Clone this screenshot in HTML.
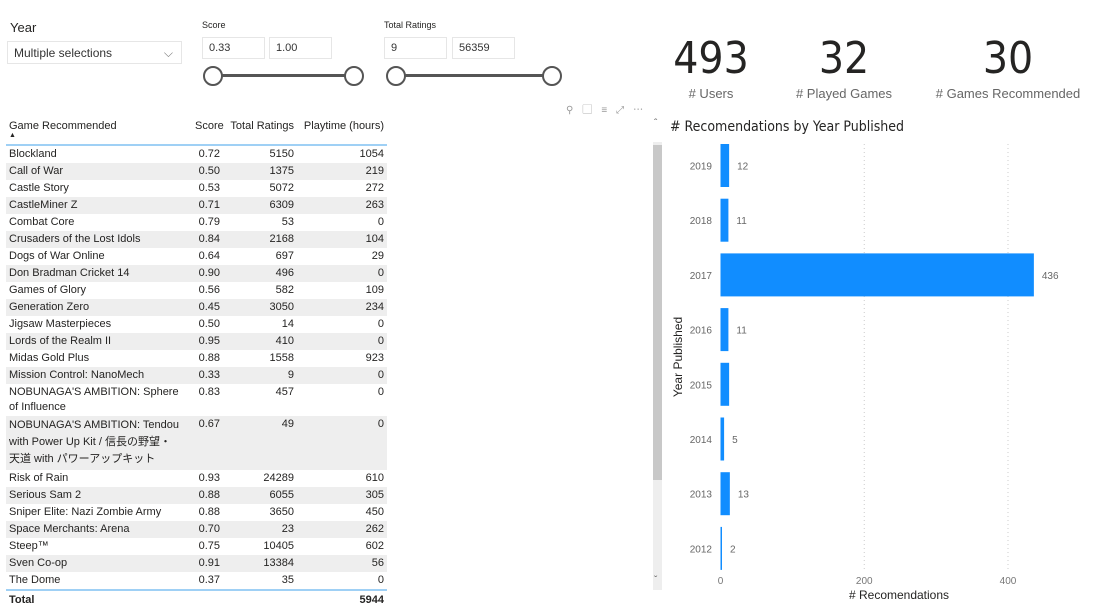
<!DOCTYPE html>
<html><head><meta charset="utf-8"><style>
body{margin:0;width:1098px;height:609px;background:#fff;font-family:"Segoe UI","Liberation Sans","Noto Sans CJK JP",sans-serif;position:relative;overflow:hidden;color:#252423}
.abs{position:absolute}
.box{position:absolute;border:1px solid #e6e6e6;font-size:11px;color:#333;padding:0 6px;box-sizing:border-box;line-height:20px;height:22px}
.knob{position:absolute;width:20px;height:20px;border:2px solid #555;border-radius:50%;background:#fff;box-sizing:border-box}
.kpi{position:absolute;text-align:center;width:200px}
.kpi .n{font-size:44px;font-family:"DejaVu Sans Condensed","Liberation Sans",sans-serif;color:#252423;line-height:46px}
.kpi .l{font-size:13px;color:#666;margin-top:4px}
table{border-collapse:collapse;font-size:11px;position:absolute;left:6px;top:117px;width:381px;table-layout:fixed;color:#252423}
td{padding:1px 3px 1px 3px;height:15px;line-height:15px;vertical-align:top;overflow:hidden}
td.r{text-align:right}
tr.s td{background:#eeeeee}
th{font-weight:normal;font-size:11px;text-align:right;padding:0 3px;height:20px;vertical-align:top;padding-top:3px;border-bottom:2px solid #9fd0f5;white-space:nowrap}
</style></head><body>
<div class="abs" style="left:10px;top:20px;font-size:13px">Year</div>
<div class="box" style="left:7px;top:41px;width:175px;height:23px;font-size:12px;line-height:22px">Multiple selections<span style="position:absolute;right:8px;top:0;color:#777">&#x2335;</span></div>
<div class="abs" style="left:202px;top:20px;font-size:9px">Score</div>
<div class="box" style="left:202px;top:37px;width:63px">0.33</div>
<div class="box" style="left:269px;top:37px;width:63px">1.00</div>
<div class="abs" style="left:214px;top:74px;width:140px;height:3px;background:#555"></div>
<div class="knob" style="left:203px;top:66px"></div>
<div class="knob" style="left:344px;top:66px"></div>
<div class="abs" style="left:384px;top:20px;font-size:9px">Total Ratings</div>
<div class="box" style="left:384px;top:37px;width:63px">9</div>
<div class="box" style="left:452px;top:37px;width:63px">56359</div>
<div class="abs" style="left:396px;top:74px;width:156px;height:3px;background:#555"></div>
<div class="knob" style="left:386px;top:66px"></div>
<div class="knob" style="left:542px;top:66px"></div>

<div class="kpi" style="left:611px;top:36px"><div class="n">493</div><div class="l"># Users</div></div>
<div class="kpi" style="left:744px;top:36px"><div class="n">32</div><div class="l"># Played Games</div></div>
<div class="kpi" style="left:908px;top:36px"><div class="n">30</div><div class="l"># Games Recommended</div></div>

<div class="abs" style="left:566px;top:101px;font-size:10px;color:#999;letter-spacing:9px">⚲▢≡⤢⋯</div>

<table>
<colgroup><col style="width:186px"><col style="width:31px"><col style="width:74px"><col style="width:90px"></colgroup>
<tr><th style="text-align:left">Game Recommended<br><span style="font-size:7px;position:relative;top:-4px">▲</span></th><th>Score</th><th>Total Ratings</th><th>Playtime (hours)</th></tr>
<tbody id="tb"></tbody>
<tr><td style="font-weight:bold;border-top:2px solid #9fd0f5;padding-top:2px">Total</td><td style="border-top:2px solid #9fd0f5"></td><td style="border-top:2px solid #9fd0f5"></td><td class="r" style="font-weight:bold;border-top:2px solid #9fd0f5;padding-top:2px">5944</td></tr>
</table>

<div class="abs" style="left:653px;top:142px;width:9px;height:448px;background:#eee"><div style="position:absolute;left:0;top:3px;width:9px;height:335px;background:#c8c8c8"></div></div>
<div class="abs" style="left:654px;top:118px;font-size:10px;color:#666">ˆ</div>
<div class="abs" style="left:654px;top:575px;font-size:10px;color:#666">ˇ</div>

<svg class="abs" style="left:0;top:0" width="1098" height="609" id="chart">
<text x="670" y="131" font-size="14" fill="#252423" font-family="DejaVu Sans Condensed, Liberation Sans, sans-serif"># Recomendations by Year Published</text>
<text transform="translate(682,357) rotate(-90)" text-anchor="middle" font-size="12" fill="#252423">Year Published</text>
<text x="899" y="599" text-anchor="middle" font-size="12" fill="#252423"># Recomendations</text>
<g id="g"></g>
</svg>
<script>
const games=["Blockland","Call of War","Castle Story","CastleMiner Z","Combat Core","Crusaders of the Lost Idols","Dogs of War Online","Don Bradman Cricket 14","Games of Glory","Generation Zero","Jigsaw Masterpieces","Lords of the Realm II","Midas Gold Plus","Mission Control: NanoMech","NOBUNAGA'S AMBITION: Sphere of Influence","NOBUNAGA'S AMBITION: Tendou with Power Up Kit / 信長の野望・天道 with パワーアップキット","Risk of Rain","Serious Sam 2","Sniper Elite: Nazi Zombie Army","Space Merchants: Arena","Steep™","Sven Co-op","The Dome"];
const scores=["0.72","0.50","0.53","0.71","0.79","0.84","0.64","0.90","0.56","0.45","0.50","0.95","0.88","0.33","0.83","0.67","0.93","0.88","0.88","0.70","0.75","0.91","0.37"];
const ratings=[5150,1375,5072,6309,53,2168,697,496,582,3050,14,410,1558,9,457,49,24289,6055,3650,23,10405,13384,35];
const playtime=[1054,219,272,263,0,104,29,0,109,234,0,0,923,0,0,0,610,305,450,262,602,56,0];
const years=["2019","2018","2017","2016","2015","2014","2013","2012"];
const recs=[12,11,436,11,12,5,13,2];
const shownLabels=["12","11","436","11","","5","13","2"];
const xTicks=[0,200,400];

const tb=document.getElementById('tb');
games.forEach((g,i)=>{
  const tr=document.createElement('tr');
  
  
  if(i%2===1) tr.className='s';
  const extra=g.length>60?'padding-bottom:2px;line-height:17px;padding-right:12px;':'';
  tr.innerHTML='<td style="'+extra+'">'+g+'</td><td class="r">'+scores[i]+'</td><td class="r">'+ratings[i]+'</td><td class="r">'+playtime[i]+'</td>';
  tb.appendChild(tr);
});

const ns='http://www.w3.org/2000/svg', G=document.getElementById('g');
const x0=720.5, sc=(1008-720.5)/400;
const X=v=>x0+v*sc;
const top0=144, band=54.7, bh=43;
const Y=i=>top0+i*band;
function el(t,a){const e=document.createElementNS(ns,t);for(const k in a)e.setAttribute(k,a[k]);G.appendChild(e);return e;}
xTicks.forEach(t=>{
  if(t>0){const l=el('line',{x1:X(t),x2:X(t),y1:top0,y2:570,stroke:'#ccc','stroke-dasharray':'1,3'});
  
  }
  const tx=el('text',{x:X(t),y:584,'text-anchor':'middle','font-size':10,fill:'#777'});tx.textContent=t;
  
  
});
years.forEach((y,i)=>{
  const r=el('rect',{x:x0,y:Y(i),width:Math.max(1.5,X(recs[i])-x0),height:bh,fill:'#118DFF'});
  
  
  const t=el('text',{x:712,y:Y(i)+bh/2+4,'text-anchor':'end','font-size':10,fill:'#666'});t.textContent=y;
  
  
  if(shownLabels[i]){const d=el('text',{x:X(recs[i])+8,y:Y(i)+bh/2+4,'font-size':10,fill:'#666'});d.textContent=shownLabels[i];
  
  }
});
</script>
</body></html>
